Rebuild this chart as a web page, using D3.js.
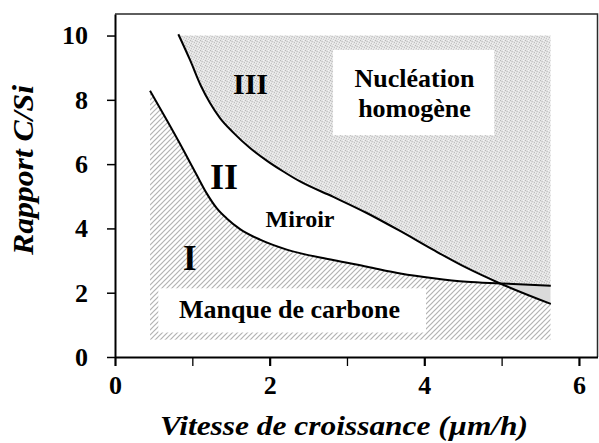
<!DOCTYPE html>
<html>
<head>
<meta charset="utf-8">
<script src="https://cdn.jsdelivr.net/npm/d3@7"></script>
<style>
  body { margin: 0; background: #fff; }
  text { font-family: "Liberation Serif", "Times New Roman", serif; font-weight: bold; fill: #000; }
</style>
</head>
<body>
<svg id="chart" width="599" height="443"></svg>
<script>
// ---- data ----
const xTicks = [0, 1, 2, 3, 4, 5, 6];
const xTickLabels = ["0", "", "2", "", "4", "", "6"];
const yTicks = [0, 2, 4, 6, 8, 10];
const yTickLabels = ["0", "2", "4", "6", "8", "10"];

// boundary between domain I and domain II
const lowerX = [0.453, 0.669, 0.884, 1.057, 1.186, 1.315, 1.445, 1.617, 1.876, 2.221, 2.82, 3.26, 3.69, 4.12, 4.55, 4.98, 5.636];
const lowerY = [8.28, 7.37, 6.44, 5.66, 5.09, 4.63, 4.31, 3.98, 3.65, 3.34, 3.02, 2.81, 2.60, 2.45, 2.34, 2.29, 2.22];

// boundary between domain II and domain III
const upperX = [0.819, 0.970, 1.112, 1.229, 1.358, 1.53, 1.746, 1.962, 2.177, 2.393, 2.824, 3.256, 3.687, 4.118, 4.55, 4.959, 5.636];
const upperY = [10.04, 9.24, 8.43, 7.90, 7.43, 6.98, 6.50, 6.11, 5.77, 5.46, 4.98, 4.48, 3.92, 3.33, 2.77, 2.31, 1.65];

// extent of the shaded domains
const hatchFloor = 0.54;   // lower edge of the "manque de carbone" zone
const stippleTop = 10;     // upper edge of the "nucléation homogène" zone

const domainLabels = ["I", "II", "III"];
const xTitle = "Vitesse de croissance (µm/h)";
const yTitle = "Rapport C/Si";

// ---- layout ----
const svg = d3.select("#chart");
const xMax = 6.24, yMax = 10.67;
const x = d3.scaleLinear().domain([0, xMax]).range([115, 597.5]);
const y = d3.scaleLinear().domain([0, yMax]).range([357, 14]);

const lower = lowerX.map((v, i) => [v, lowerY[i]]);
const upper = upperX.map((v, i) => [v, upperY[i]]);
const line = d3.line().x(d => x(d[0])).y(d => y(d[1])).curve(d3.curveMonotoneX);
const lowerPath = line(lower);
const upperPath = line(upper);
const xEnd = lowerX[lowerX.length - 1];

// ---- patterns ----
const defs = svg.append("defs");
const hatch = defs.append("pattern").attr("id", "hatch")
  .attr("patternUnits", "userSpaceOnUse").attr("width", 5).attr("height", 5);
hatch.append("rect").attr("width", 5).attr("height", 5).attr("fill", "#fff");
hatch.append("path").attr("d", "M-1,1L1,-1M0,5L5,0M4,6L6,4")
  .attr("stroke", "#b2b2b2").attr("stroke-width", 1.2);

const stip = defs.append("pattern").attr("id", "stipple")
  .attr("patternUnits", "userSpaceOnUse").attr("width", 5).attr("height", 5);
stip.append("rect").attr("width", 5).attr("height", 5).attr("fill", "#e3e3e3");
[[0,0,"#b8b8b8"],[2,1,"#c8c8c8"],[4,2,"#bebebe"],[1,3,"#c4c4c4"],[3,4,"#cccccc"],
 [3,0,"#f4f4f4"],[0,2,"#f0f0f0"],[2,3,"#f2f2f2"],[4,4,"#eeeeee"],[1,1,"#d2d2d2"]].forEach(p => {
  stip.append("rect").attr("x", p[0]).attr("y", p[1]).attr("width", 1).attr("height", 1).attr("fill", p[2]);
});

// ---- clip regions ----
const yTopPx = y(yMax), yBotPx = y(0);
defs.append("clipPath").attr("id", "belowLower").append("path")
  .attr("d", lowerPath + `L${x(xEnd)},${yBotPx}L${x(lowerX[0])},${yBotPx}Z`);
defs.append("clipPath").attr("id", "aboveLower").append("path")
  .attr("d", lowerPath + `L${x(xEnd)},${yTopPx}L${x(lowerX[0])},${yTopPx}Z`);
defs.append("clipPath").attr("id", "belowUpper").append("path")
  .attr("d", `M${x(0)},${yTopPx}H${x(upperX[0])}V${y(upperY[0])}` + upperPath.replace(/^M/, "L") +
             `L${x(xEnd)},${yBotPx}L${x(0)},${yBotPx}Z`);
defs.append("clipPath").attr("id", "aboveUpper").append("path")
  .attr("d", upperPath + `L${x(xEnd)},${yTopPx}L${x(upperX[0])},${yTopPx}Z`);

// domain I : hatched, below both boundaries
svg.append("g").attr("clip-path", "url(#belowUpper)")
  .append("rect").attr("clip-path", "url(#belowLower)")
  .attr("x", x(lowerX[0])).attr("y", y(yMax))
  .attr("width", x(xEnd) - x(lowerX[0])).attr("height", y(hatchFloor) - y(yMax))
  .attr("fill", "url(#hatch)");

// domain III : stippled, above both boundaries
svg.append("g").attr("clip-path", "url(#aboveLower)")
  .append("rect").attr("clip-path", "url(#aboveUpper)")
  .attr("x", x(upperX[0])).attr("y", y(stippleTop))
  .attr("width", x(xEnd) - x(upperX[0])).attr("height", y(0) - y(stippleTop))
  .attr("fill", "url(#stipple)");

// overlap beyond the crossing point : solid grey
svg.append("g").attr("clip-path", "url(#belowLower)")
  .append("rect").attr("clip-path", "url(#aboveUpper)")
  .attr("x", x(0)).attr("y", y(yMax))
  .attr("width", x(xEnd) - x(0)).attr("height", y(0) - y(yMax))
  .attr("fill", "#dadada");

// white label boxes
svg.append("rect")
  .attr("x", x(2.82)).attr("y", y(9.55))
  .attr("width", x(4.905) - x(2.82)).attr("height", y(6.9) - y(9.55))
  .attr("fill", "#fff");
svg.append("rect")
  .attr("x", x(0.56)).attr("y", y(2.137))
  .attr("width", x(4.022) - x(0.56)).attr("height", y(0.762) - y(2.137))
  .attr("fill", "#fff");

// boundary curves
svg.append("path").attr("d", lowerPath).attr("fill", "none").attr("stroke", "#000").attr("stroke-width", 2);
svg.append("path").attr("d", upperPath).attr("fill", "none").attr("stroke", "#000").attr("stroke-width", 2);

// frame (top and right)
svg.append("path")
  .attr("d", `M${x(0)},${y(yMax)}H${x(xMax)}V${y(0)}`)
  .attr("fill", "none").attr("stroke", "#2a2a2a").attr("stroke-width", 1.5);

// axes
const yAxis = svg.append("g").attr("transform", `translate(${x(0)},0)`)
  .call(d3.axisLeft(y).tickValues(yTicks).tickSize(8).tickSizeOuter(0).tickPadding(19)
    .tickFormat((d, i) => yTickLabels[i]));
yAxis.select(".domain").attr("stroke", "#000").attr("stroke-width", 2);
yAxis.selectAll(".tick line").attr("stroke", "#000").attr("stroke-width", 1.5);
yAxis.selectAll(".tick text").attr("font-size", 26).attr("font-family", null);

const xAxis = svg.append("g").attr("transform", `translate(0,${y(0)})`)
  .call(d3.axisBottom(x).tickValues(xTicks).tickSize(9).tickSizeOuter(0)
    .tickFormat((d, i) => xTickLabels[i]));
xAxis.select(".domain").attr("stroke", "#000").attr("stroke-width", 2);
xAxis.selectAll(".tick line").attr("stroke", "#000")
  .attr("stroke-width", (d, i) => xTickLabels[i] ? 2.2 : 1.3);
xAxis.selectAll(".tick text").attr("font-size", 26).attr("font-family", null)
  .attr("y", 37).attr("dy", 0);
svg.selectAll(".tick text").attr("font-weight", "bold");

// axis titles
svg.append("text")
  .attr("x", 344).attr("y", 435)
  .attr("text-anchor", "middle")
  .attr("font-size", 28).attr("font-style", "italic")
  .attr("textLength", 368).attr("lengthAdjust", "spacingAndGlyphs")
  .text(xTitle);
svg.append("text")
  .attr("transform", "translate(33,170) rotate(-90)")
  .attr("text-anchor", "middle")
  .attr("font-size", 30).attr("font-style", "italic")
  .attr("textLength", 170).attr("lengthAdjust", "spacingAndGlyphs")
  .text(yTitle);

// domain labels
const roman = [
  { t: domainLabels[0], cx: 0.966, by: 2.706, fs: 35 },
  { t: domainLabels[1], cx: 1.41, by: 5.225, fs: 36 },
  { t: domainLabels[2], cx: 1.752, by: 8.18, fs: 30 }
];
svg.selectAll("text.roman").data(roman).join("text")
  .attr("class", "roman")
  .attr("x", d => x(d.cx)).attr("y", d => y(d.by))
  .attr("text-anchor", "middle").attr("font-size", d => d.fs)
  .text(d => d.t);

const notes = [
  { t: "Miroir", cx: 2.393, by: 4.053, fs: 24 },
  { t: "Nucléation", cx: 3.873, by: 8.407, fs: 26 },
  { t: "homogène", cx: 3.873, by: 7.474, fs: 26 },
  { t: "Manque de carbone", cx: 2.257, by: 1.204, fs: 26 }
];
svg.selectAll("text.note").data(notes).join("text")
  .attr("class", "note")
  .attr("x", d => x(d.cx)).attr("y", d => y(d.by))
  .attr("text-anchor", "middle").attr("font-size", d => d.fs)
  .text(d => d.t);
</script>
</body>
</html>
